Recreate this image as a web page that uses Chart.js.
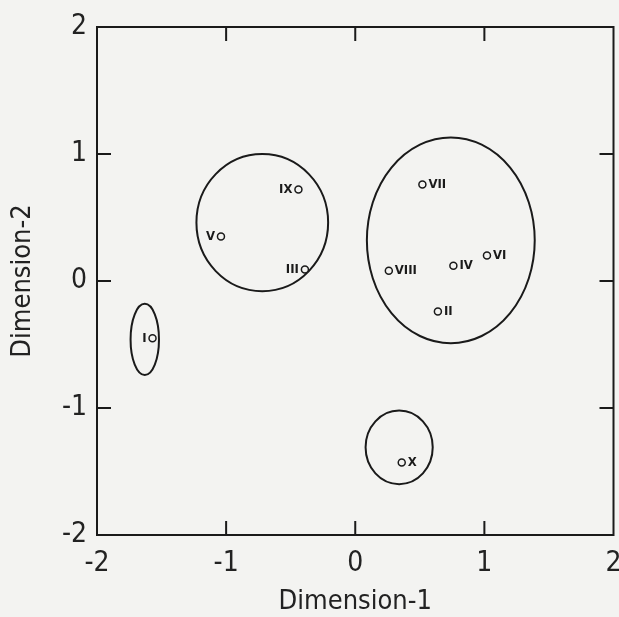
<!DOCTYPE html>
<html>
<head>
<meta charset="utf-8">
<script src="https://cdn.jsdelivr.net/npm/chart.js@4/dist/chart.umd.min.js"></script>
<style>
  html, body { margin: 0; padding: 0; background: #f3f3f1; }
  #wrap { width: 619px; height: 617px; }
</style>
</head>
<body>
<div id="wrap"><canvas id="mycanvas" width="619" height="617"></canvas></div>
<script>
// points
var labels = ['I', 'II', 'III', 'IV', 'V', 'VI', 'VII', 'VIII', 'IX', 'X'];
var dim1 = [-1.57, 0.64, -0.39, 0.76, -1.04, 1.02, 0.52, 0.26, -0.44, 0.36];
var dim2 = [-0.45, -0.24, 0.09, 0.12, 0.35, 0.20, 0.76, 0.08, 0.72, -1.43];
var labelSide = ['left', 'right', 'left', 'right', 'left', 'right', 'right', 'right', 'left', 'right'];

// cluster ellipses (centre and radii in data units)
var ellCx = [-1.63, -0.72, 0.74, 0.34];
var ellCy = [-0.46, 0.46, 0.32, -1.31];
var ellRx = [0.11, 0.51, 0.65, 0.26];
var ellRy = [0.28, 0.54, 0.81, 0.29];

var tickVals = [-2, -1, 0, 1, 2];

var pts = [];
for (var i in labels) {
	pts.push({x: dim1[i], y: dim2[i]});
}

var fontFam = "'DejaVu Sans Condensed', 'Liberation Sans Narrow', sans-serif";

var extras = {
	id: 'extras',
	beforeDatasetsDraw: function(chart) {
		var c = chart.ctx;
		var xs = chart.scales.x, ys = chart.scales.y;
		var a = chart.chartArea;
		c.save();
		c.strokeStyle = '#1a1a1a';
		c.lineWidth = 2;
		// box
		c.strokeRect(a.left, a.top, a.right - a.left, a.bottom - a.top);
		// inward ticks on all four sides
		c.beginPath();
		for (var t = 1; t < tickVals.length - 1; t++) {
			var px = xs.getPixelForValue(tickVals[t]);
			var py = ys.getPixelForValue(tickVals[t]);
			c.moveTo(px, a.bottom); c.lineTo(px, a.bottom - 14);
			c.moveTo(px, a.top); c.lineTo(px, a.top + 14);
			c.moveTo(a.left, py); c.lineTo(a.left + 14, py);
			c.moveTo(a.right, py); c.lineTo(a.right - 14, py);
		}
		c.stroke();
		// ellipses
		for (var e = 0; e < ellCx.length; e++) {
			var cx = xs.getPixelForValue(ellCx[e]);
			var cy = ys.getPixelForValue(ellCy[e]);
			var rx = Math.abs(xs.getPixelForValue(ellCx[e] + ellRx[e]) - cx);
			var ry = Math.abs(ys.getPixelForValue(ellCy[e] + ellRy[e]) - cy);
			c.beginPath();
			c.ellipse(cx, cy, rx, ry, 0, 0, Math.PI * 2);
			c.stroke();
		}
		c.restore();
	},
	afterDatasetsDraw: function(chart) {
		var c = chart.ctx;
		var meta = chart.getDatasetMeta(0);
		c.save();
		c.fillStyle = '#1a1a1a';
		c.font = "bold 13px 'DejaVu Sans Condensed', sans-serif";
		c.textBaseline = 'middle';
		meta.data.forEach(function(p, k) {
			if (labelSide[k] == 'left') {
				c.textAlign = 'right';
				c.fillText(labels[k], p.x - 6, p.y);
			} else {
				c.textAlign = 'left';
				c.fillText(labels[k], p.x + 6, p.y);
			}
		});
		c.restore();
	}
};

var ctx = document.getElementById('mycanvas');

var chart = new Chart(ctx, {
	type: 'scatter',
	data: {
		datasets: [{
			label: 'Items',
			data: pts,
			pointRadius: 3.5,
			pointBorderWidth: 1.5,
			borderColor: '#1a1a1a',
			backgroundColor: '#f3f3f1'
		}]
	},
	options: {
		responsive: false,
		animation: false,
		layout: { padding: { top: 27, right: 4, left: 0, bottom: 0 } },
		plugins: { legend: { display: false }, tooltip: { enabled: false } },
		scales: {
			x: {
				type: 'linear', min: -2, max: 2,
				afterBuildTicks: function(s) { s.ticks = tickVals.map(function(v) { return {value: v}; }); },
				grid: { display: false, drawTicks: false },
				border: { display: false },
				ticks: { color: '#222', padding: 13, maxRotation: 0, font: { family: fontFam, size: 28, lineHeight: 1.1 } },
				title: { display: true, text: 'Dimension-1', color: '#222', padding: { top: 0, bottom: 0 }, font: { family: fontFam, size: 27, lineHeight: 1.1 } },
				afterFit: function(s) { s.height = 82; s.paddingLeft = 0; s.paddingRight = 0; }
			},
			y: {
				type: 'linear', min: -2, max: 2,
				afterBuildTicks: function(s) { s.ticks = tickVals.map(function(v) { return {value: v}; }); },
				grid: { display: false, drawTicks: false },
				border: { display: false },
				ticks: { color: '#222', padding: 10, font: { family: fontFam, size: 28 } },
				title: { display: true, text: 'Dimension-2', color: '#222', padding: { top: 8, bottom: 6 }, font: { family: fontFam, size: 27, lineHeight: 1.1 } },
				afterFit: function(s) { s.width = 97; s.paddingTop = 0; s.paddingBottom = 0; }
			}
		}
	},
	plugins: [extras]
});
</script>
</body>
</html>
